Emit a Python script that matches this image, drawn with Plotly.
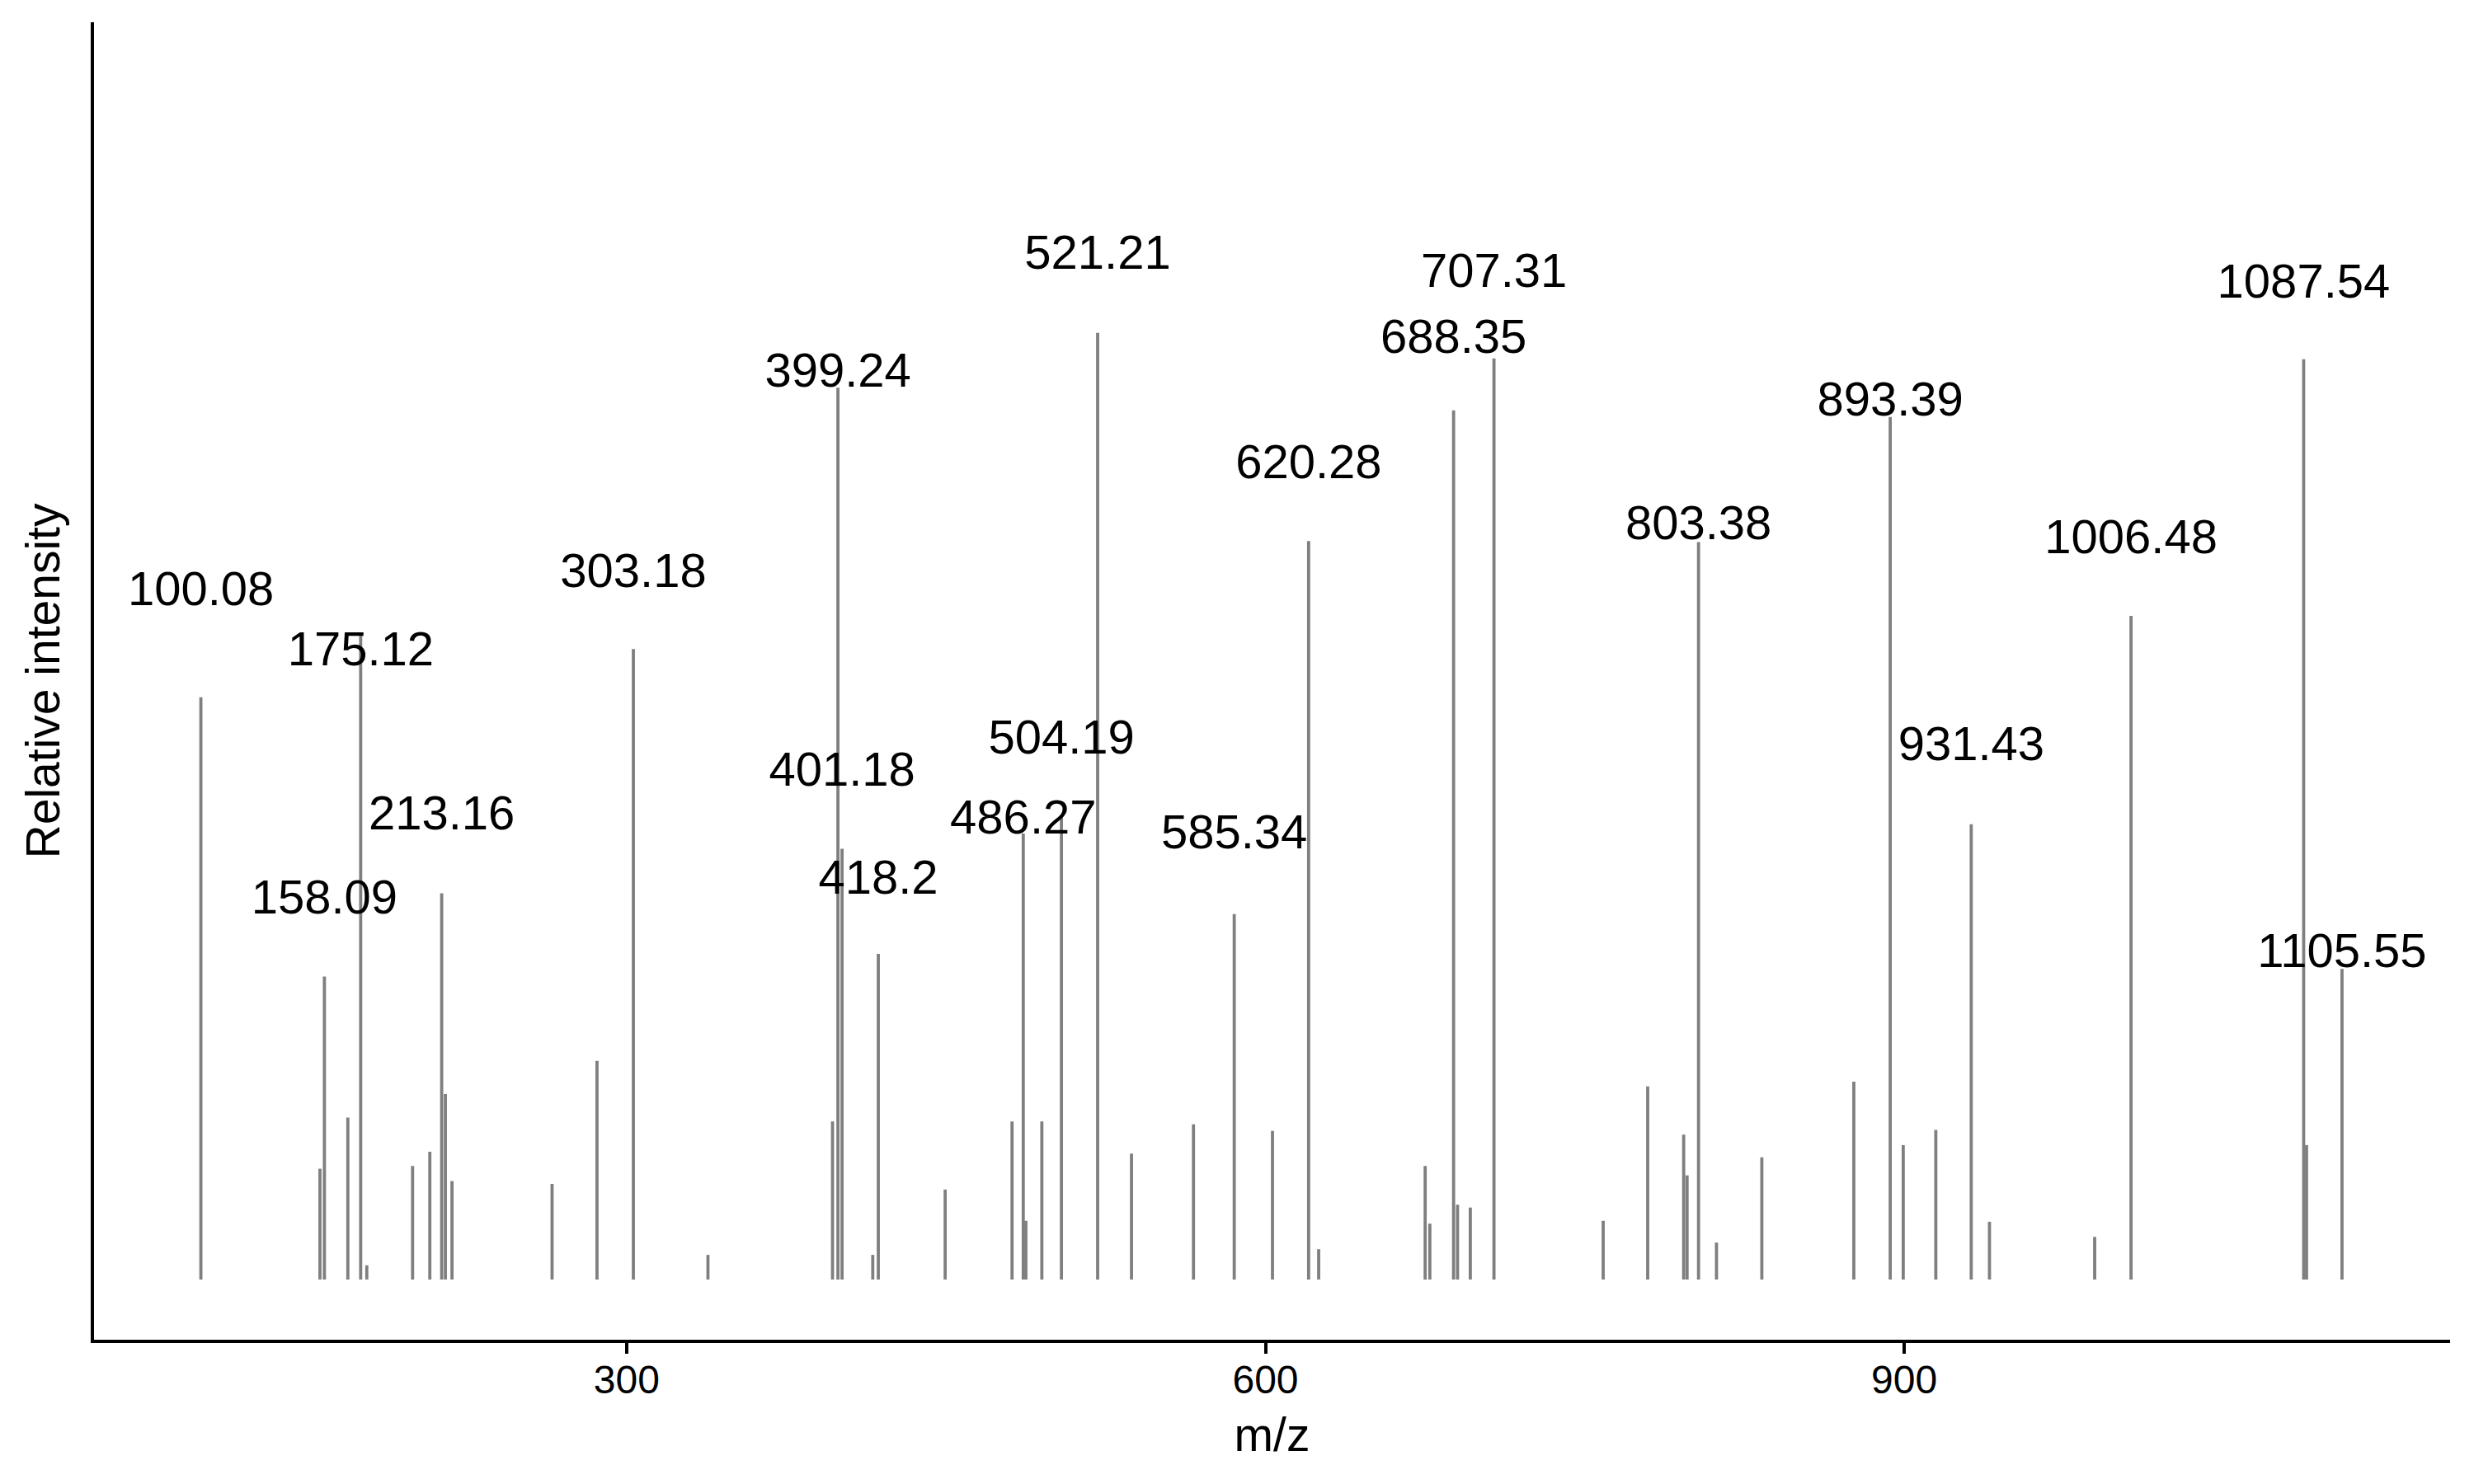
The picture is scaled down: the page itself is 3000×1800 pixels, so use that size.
import plotly.graph_objects as go

# peak m/z values and relative intensities (521.21 = 100)
mz = [100.08, 156.0, 158.09, 169.1, 175.12, 178.0, 199.5, 207.6, 213.16, 214.9,
      218.0, 265.0, 286.1, 303.18, 338.2, 396.7, 399.24, 401.18, 415.6, 418.2,
      449.6, 481.0, 486.27, 487.5, 495.0, 504.19, 521.21, 537.1, 566.2, 585.34,
      603.3, 620.28, 625.0, 675.0, 677.2, 688.35, 690.2, 696.2, 707.31, 758.6,
      779.5, 796.4, 798.0, 803.38, 811.8, 833.1, 876.3, 893.39, 899.5, 914.8,
      931.43, 940.0, 989.4, 1006.48, 1087.54, 1088.9, 1105.55]
intensity = [61.5, 11.7, 32.0, 17.1, 68.2, 1.5, 12.0, 13.5, 40.8, 19.6,
             10.4, 10.1, 23.1, 66.6, 2.6, 16.7, 94.2, 45.5, 2.6, 34.4,
             9.5, 16.7, 47.1, 6.2, 16.7, 48.8, 100.0, 13.3, 16.4, 38.6,
             15.7, 78.0, 3.2, 12.0, 5.9, 91.8, 7.9, 7.6, 97.3, 6.2,
             20.4, 15.3, 11.0, 77.9, 3.9, 12.9, 20.9, 91.1, 14.2, 15.8,
             48.1, 6.1, 4.5, 70.1, 97.2, 14.2, 32.8]

# labelled peaks and the height of their label
label_mz = [100.08, 158.09, 175.12, 213.16, 303.18, 399.24, 401.18, 418.2, 486.27,
            504.19, 521.21, 585.34, 620.28, 688.35, 707.31, 803.38, 893.39, 931.43,
            1006.48, 1087.54, 1105.55]
label_y = [72.5, 39.9, 66.1, 48.8, 74.4, 95.6, 53.4, 42.0, 48.4,
           56.8, 108.0, 46.8, 85.9, 99.1, 106.1, 79.5, 92.5, 56.1,
           78.0, 105.0, 34.3]
label_text = [f"{v:g}" for v in label_mz]

x_ticks = [300, 600, 900]

seg_x, seg_y = [], []
for m, h in zip(mz, intensity):
    seg_x += [m, m, None]
    seg_y += [0, h, None]

FONT = "Liberation Sans, Arial, Helvetica"

fig = go.Figure()
fig.add_trace(go.Scatter(x=seg_x, y=seg_y, mode="lines",
                         line=dict(color="#7f7f7f", width=3.8),
                         hoverinfo="skip", showlegend=False))
fig.add_trace(go.Scatter(x=label_mz, y=label_y, mode="text", text=label_text,
                         textposition="middle center",
                         textfont=dict(family=FONT, size=58, color="black"),
                         showlegend=False))

fig.update_layout(
    width=2992, height=1792,
    margin=dict(l=106, r=29, t=19, b=175),
    plot_bgcolor="white", paper_bgcolor="white",
    font=dict(family=FONT, color="black"),
    xaxis=dict(range=[49.9, 1156.3], tickvals=x_ticks, ticktext=[str(t) for t in x_ticks],
               showgrid=False, zeroline=False, showline=True, linecolor="black",
               linewidth=4.2, ticks="outside", ticklen=13, tickwidth=4, tickcolor="black",
               ticklabelstandoff=-10,
               tickfont=dict(family=FONT, size=48, color="black"),
               title=dict(text="m/z", font=dict(family=FONT, size=57, color="black"), standoff=22)),
    yaxis=dict(range=[-6.36, 132.8], showgrid=False, zeroline=False, showline=True,
               linecolor="black", linewidth=4.4, showticklabels=False, ticks="",
               title=dict(text="Relative intensity", font=dict(family=FONT, size=57, color="black"),
                          standoff=20)),
)

fig.write_html("out.html")
